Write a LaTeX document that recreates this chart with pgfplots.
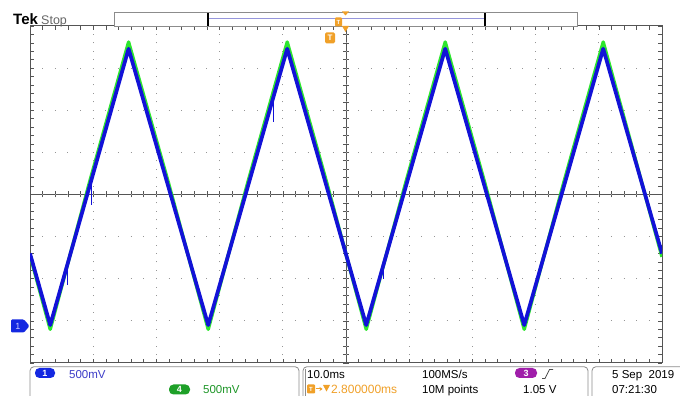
\documentclass[border=0pt]{standalone}
\usepackage{pgfplots}
\pgfplotsset{compat=1.18}
\usepackage{pgfplotstable}
\usetikzlibrary{arrows.meta}
\usepackage{fontspec}
\setmainfont{Liberation Sans}

\definecolor{chone}{RGB}{18,18,215}
\definecolor{chfour}{RGB}{45,230,45}
\definecolor{pillblue}{RGB}{20,40,225}
\definecolor{pillgreen}{RGB}{30,160,40}
\definecolor{pillpurple}{RGB}{160,30,170}
\definecolor{txtblue}{RGB}{60,60,200}
\definecolor{txtgreen}{RGB}{30,150,40}
\definecolor{trigorange}{RGB}{240,160,40}
\definecolor{gratgray}{RGB}{85,85,85}
\definecolor{dotgray}{RGB}{150,150,150}
\definecolor{framegray}{RGB}{140,140,140}
\definecolor{lavender}{RGB}{150,150,220}

% Channel 1 (500 mV/div), time in ms, voltage in V
\pgfplotstableread{
t v
0 -0.70
3.2 -1.55
15.6 1.73
28.2 -1.55
40.7 1.73
53.2 -1.55
65.7 1.73
78.2 -1.55
90.7 1.73
100 -0.70
}\chonedata

% Channel 4 (500 mV/div)
\pgfplotstableread{
t v
0 -0.72
3.2 -1.60
9.4 0.14
15.6 1.81
21.9 0.14
28.2 -1.60
34.45 0.14
40.7 1.81
46.95 0.14
53.2 -1.60
59.45 0.14
65.7 1.81
71.95 0.14
78.2 -1.60
84.45 0.14
90.7 1.81
95.35 0.54
100 -0.74
}\chfourdata

\newcommand{\scopefont}{\fontsize{11.5}{12}\selectfont}

\begin{document}
\begin{tikzpicture}
\useasboundingbox (0,0) rectangle (680pt,396pt);
\fill[white] (0,0) rectangle (680pt,396pt);

% centre cross of the graticule with its minor ticks (centre at 346pt, 201.5pt)
\draw[gratgray, line width=0.9pt] (346pt,33pt) -- (346pt,370pt);
\draw[gratgray, line width=0.9pt] (30pt,201.5pt) -- (662pt,201.5pt);
\foreach \i in {0,...,50}
  \draw[gratgray, line width=0.6pt] ({(30+\i*12.64)*1pt},198.5pt) -- ++(0,6pt);
\foreach \j in {0,...,40}
  \draw[gratgray, line width=0.6pt] (343pt,{(33+\j*8.425)*1pt}) -- ++(6pt,0);

\begin{axis}[
  at={(30pt,33pt)}, anchor=south west,
  scale only axis, width=632pt, height=337pt,
  xmin=0, xmax=100, ymin=-2, ymax=2,
  xtick={0,10,...,100}, ytick={-2,-1.5,...,2},
  minor x tick num=4, minor y tick num=4,
  xticklabels={}, yticklabels={},
  tick align=inside,
  major tick length=4pt, minor tick length=4pt,
  tick style={gratgray, line width=0.6pt},
  axis line style={gratgray, line width=1pt},
  grid=major,
  x grid style={dotgray, line width=1pt, dash pattern=on 1pt off 7.425pt, dash phase=0.5pt},
  y grid style={dotgray, line width=1pt, dash pattern=on 1pt off 11.64pt, dash phase=0.5pt},
]
% traces
\addplot[chfour, line width=3.4pt, line join=round] table {\chfourdata};
\addplot[chone, line width=3.7pt, line join=round] table {\chonedata};
% short glitches on channel 1
\addplot[chone, line width=1pt] coordinates {(9.8,0.20) (9.8,-0.13)};
\addplot[chone, line width=1pt] coordinates {(6.0,-0.80) (6.0,-1.08)};
\addplot[chone, line width=1pt] coordinates {(38.6,1.15) (38.6,0.86)};
\addplot[chone, line width=1pt] coordinates {(55.9,-0.80) (55.9,-1.00)};
\end{axis}

% header
\node[anchor=base west, inner sep=0] at (13pt,371pt) {\fontsize{15}{15}\selectfont\bfseries Tek};
\node[anchor=base west, inner sep=0, text=black!60] at (41pt,371pt) {\fontsize{12.5}{13}\selectfont Stop};

% record view bar
\draw[framegray, line width=0.8pt, fill=white] (114pt,370pt) rectangle (577pt,383.3pt);
\draw[lavender, line width=1.2pt] (208pt,377.7pt) -- (485pt,377.7pt);
\draw[black, line width=1.3pt] (208pt,370pt) -- (208pt,383.3pt);
\draw[black, line width=1.3pt] (485pt,370pt) -- (485pt,383.3pt);
\node[fill=trigorange, rounded corners=1pt, minimum width=7pt, minimum height=9pt, inner sep=0, text=white]
  at (338.5pt,374pt) {\fontsize{6}{6}\selectfont\bfseries T};
\fill[trigorange] (342pt,384.5pt) -- (349pt,384.5pt) -- (345.5pt,380.5pt) -- cycle;
\fill[trigorange] (342pt,370pt) -- (349pt,370pt) -- (345.5pt,364pt) -- cycle;
% trigger position marker
\node[fill=trigorange, rounded corners=1.5pt, minimum width=10pt, minimum height=11pt, inner sep=0, text=white]
  at (330pt,358pt) {\fontsize{8}{8}\selectfont\bfseries T};

% channel 1 ground marker
\fill[pillblue, rounded corners=1.2pt] (11pt,63.5pt) -- (24pt,63.5pt) -- (29.5pt,70pt) -- (24pt,76.5pt) -- (11pt,76.5pt) -- cycle;
\node[text=white!80!blue, inner sep=0] at (18pt,70pt) {\fontsize{9}{9}\selectfont 1};

% status panels
\draw[framegray, line width=0.8pt, rounded corners=4pt] (30pt,-3pt) -- (30pt,29.3pt) -- (299pt,29.3pt) -- (299pt,-3pt);
\draw[framegray, line width=0.8pt, rounded corners=4pt] (303pt,-3pt) -- (303pt,29.3pt) -- (588pt,29.3pt) -- (588pt,-3pt);
\draw[framegray, line width=0.8pt] (305pt,-3pt) -- (305pt,27pt);
\draw[framegray, line width=0.8pt, rounded corners=4pt] (592pt,-3pt) -- (592pt,29.3pt) -- (690pt,29.3pt);

% channel 1 / channel 4 settings
\node[fill=pillblue, rounded corners=4.5pt, minimum width=20pt, minimum height=10pt, inner sep=0, text=white]
  at (45pt,23pt) {\fontsize{9}{9}\selectfont\bfseries 1};
\node[anchor=base west, inner sep=0, text=txtblue] at (69pt,17.5pt) {\scopefont 500mV};
\node[fill=pillgreen, rounded corners=4.5pt, minimum width=21pt, minimum height=10pt, inner sep=0, text=white]
  at (179.5pt,6.5pt) {\fontsize{9}{9}\selectfont\bfseries 4};
\node[anchor=base west, inner sep=0, text=txtgreen] at (203pt,2.5pt) {\scopefont 500mV};

% horizontal settings
\node[anchor=base west, inner sep=0] at (307pt,17.5pt) {\scopefont 10.0ms};
\node[fill=trigorange, rounded corners=1pt, minimum width=8pt, minimum height=9pt, inner sep=0, text=white]
  at (311pt,7pt) {\fontsize{6}{6}\selectfont\bfseries T};
\draw[trigorange, line width=1pt, -{Stealth[length=3pt,width=4pt]}] (315.5pt,7pt) -- (322.5pt,7pt);
\fill[trigorange] (323pt,11pt) -- (330pt,11pt) -- (326.5pt,4.5pt) -- cycle;
\node[anchor=base west, inner sep=0, text=trigorange] at (331pt,2.5pt) {\fontsize{12}{13}\selectfont 2.800000ms};
\node[anchor=base west, inner sep=0] at (422pt,17.5pt) {\scopefont 100MS/s};
\node[anchor=base west, inner sep=0] at (422pt,2.5pt) {\scopefont 10M points};

% trigger settings
\node[fill=pillpurple, rounded corners=4.5pt, minimum width=22pt, minimum height=10pt, inner sep=0, text=white]
  at (526pt,23pt) {\fontsize{9}{9}\selectfont\bfseries 3};
\draw[black!70, line width=0.8pt] (542pt,17.5pt) -- (545pt,17.5pt) -- (549.5pt,26.5pt) -- (553pt,26.5pt);
\node[anchor=base west, inner sep=0] at (523pt,2.5pt) {\scopefont 1.05 V};

% date and time
\node[anchor=base west, inner sep=0] at (612pt,17.5pt) {\scopefont 5 Sep\ \ 2019};
\node[anchor=base west, inner sep=0] at (612pt,2.5pt) {\scopefont 07:21:30};
\end{tikzpicture}
\end{document}
